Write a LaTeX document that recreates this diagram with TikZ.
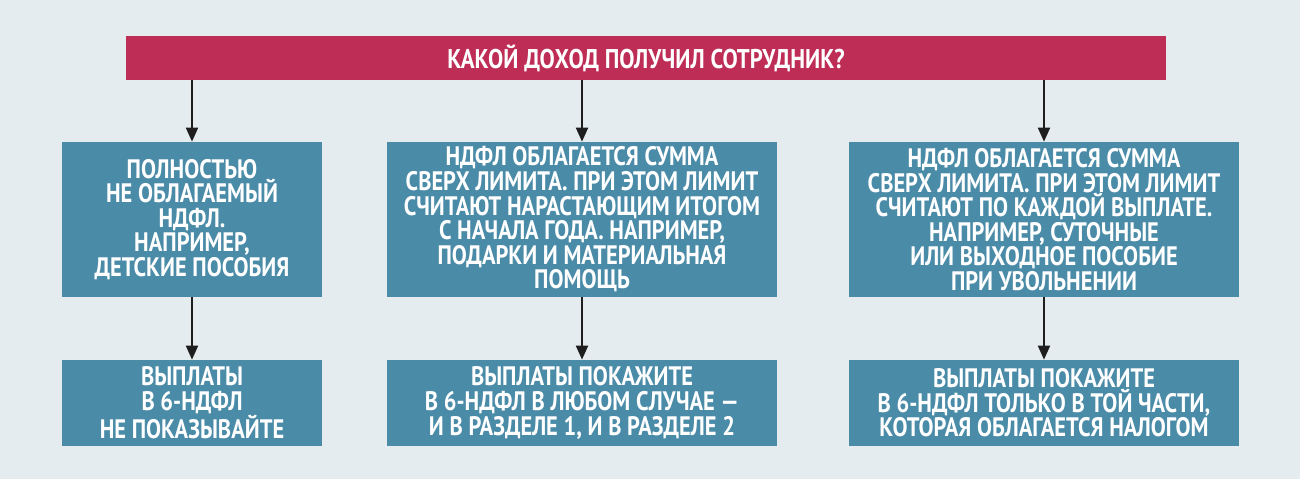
\documentclass[tikz,border=0pt]{standalone}
\usepackage{fontspec}
\setmainfont[FakeStretch=0.84]{PT Sans}
\usepackage{xcolor}
\usepackage{tikz}
\usetikzlibrary{arrows.meta,positioning,calc}
\definecolor{pagebg}{HTML}{E4ECEF}
\definecolor{crimson}{HTML}{BE2D55}
\definecolor{steel}{HTML}{4A8BA8}
\definecolor{ink}{HTML}{1E1E1E}
\tikzset{
  headbar/.style={fill=crimson, draw=none, align=center, inner sep=0pt,
    font=\bfseries\fontsize{15.4}{16}\selectfont, text=white},
  casebox/.style={fill=steel, draw=none, align=center, inner sep=0pt,
    font=\bfseries\fontsize{15.2}{14}\selectfont, text=white},
  flow/.style={-{Triangle[length=2.8mm,width=2.4mm]}, draw=ink, line width=1.1pt},
}
\begin{document}
\begin{tikzpicture}
  \fill[pagebg] (0,0) rectangle (26,-9.58);
  \useasboundingbox (0,0) rectangle (26,-9.58);

  \node[headbar, minimum width=20.8cm, minimum height=0.88cm] (ask) at (12.92,-1.16)
    {КАКОЙ ДОХОД ПОЛУЧИЛ СОТРУДНИК?};

  % верхний ряд
  \node[casebox, minimum width=5.2cm, minimum height=3.1cm] (free) at (3.84,-4.39)
    {ПОЛНОСТЬЮ\\НЕ ОБЛАГАЕМЫЙ\\НДФЛ.\\НАПРИМЕР,\\ДЕТСКИЕ ПОСОБИЯ};
  \node[casebox, minimum width=7.8cm, minimum height=3.1cm] (total) at (11.64,-4.39)
    {НДФЛ ОБЛАГАЕТСЯ СУММА\\СВЕРХ ЛИМИТА. ПРИ ЭТОМ ЛИМИТ\\СЧИТАЮТ НАРАСТАЮЩИМ ИТОГОМ\\С НАЧАЛА ГОДА. НАПРИМЕР,\\ПОДАРКИ И МАТЕРИАЛЬНАЯ\\ПОМОЩЬ};
  \node[casebox, minimum width=7.8cm, minimum height=3.1cm] (each) at (20.88,-4.39)
    {НДФЛ ОБЛАГАЕТСЯ СУММА\\СВЕРХ ЛИМИТА. ПРИ ЭТОМ ЛИМИТ\\СЧИТАЮТ ПО КАЖДОЙ ВЫПЛАТЕ.\\НАПРИМЕР, СУТОЧНЫЕ\\ИЛИ ВЫХОДНОЕ ПОСОБИЕ\\ПРИ УВОЛЬНЕНИИ};

  % нижний ряд
  \node[casebox, minimum width=5.2cm, minimum height=1.72cm] (nofree) at (3.84,-8.06)
    {ВЫПЛАТЫ\\В 6-НДФЛ\\НЕ ПОКАЗЫВАЙТЕ};
  \node[casebox, minimum width=7.8cm, minimum height=1.72cm] (showall) at (11.64,-8.06)
    {ВЫПЛАТЫ ПОКАЖИТЕ\\В 6-НДФЛ В ЛЮБОМ СЛУЧАЕ —\\И В РАЗДЕЛЕ 1, И В РАЗДЕЛЕ 2};
  \node[casebox, minimum width=7.8cm, minimum height=1.72cm] (showpart) at (20.88,-8.06)
    {ВЫПЛАТЫ ПОКАЖИТЕ\\В 6-НДФЛ ТОЛЬКО В ТОЙ ЧАСТИ,\\КОТОРАЯ ОБЛАГАЕТСЯ НАЛОГОМ};

  \draw[flow] (ask.south -| free.north) -- (free.north);
  \draw[flow] (ask.south -| total.north) -- (total.north);
  \draw[flow] (ask.south -| each.north) -- (each.north);
  \draw[flow] (free) -- (nofree);
  \draw[flow] (total) -- (showall);
  \draw[flow] (each) -- (showpart);
\end{tikzpicture}
\end{document}
